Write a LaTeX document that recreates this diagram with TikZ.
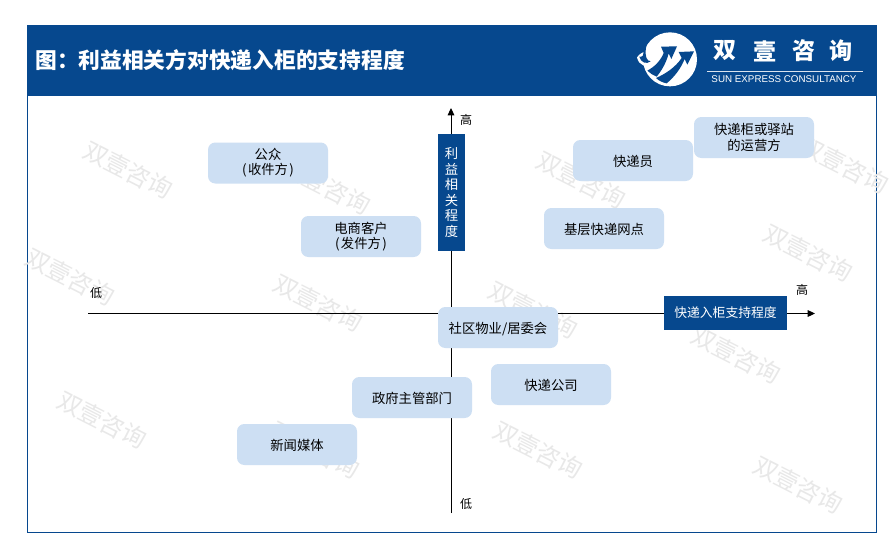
\documentclass[tikz,border=0pt]{standalone}
\usepackage{fontspec}
\setmainfont{Noto Sans CJK SC}
\setsansfont{Liberation Sans}
\usetikzlibrary{arrows.meta}
\definecolor{navy}{HTML}{06488E}
\definecolor{pale}{HTML}{CDDFF3}
\definecolor{wm}{HTML}{E8E8E8}
\tikzset{
  x=0.75pt,y=-0.75pt,
  card/.style={fill=pale,rounded corners=5.5pt,minimum width=90pt,minimum height=30.75pt,inner sep=0pt,align=center,font=\fontsize{10pt}{11.4pt}\selectfont,text=black,execute at begin node={\rule{0pt}{10.3pt}}},
  axislabel/.style={font=\fontsize{9pt}{10pt}\selectfont,text=black,inner sep=0pt},
  bluebox/.style={fill=navy,text=white,inner sep=0pt,align=center},
  axisline/.style={draw=black,line width=0.75pt,-{Triangle[length=5.5pt,width=5pt]}},
  mark wm/.style={font=\fontsize{18pt}{20pt}\selectfont,text=wm,rotate=-27,inner sep=0pt},
  logotext/.style={text=white,inner sep=0pt,font=\fontsize{17.3pt}{20pt}\selectfont\bfseries},
}
\begin{document}
\begin{tikzpicture}
\useasboundingbox (0,0) rectangle (892,550);
\fill[white] (0,0) rectangle (892,550);
% frame and header
\draw[navy,line width=0.6pt] (27.5,95) rectangle (876,532);
\fill[navy] (27,25) rectangle (877,95);
\node[anchor=west,text=white,inner sep=0pt,font=\fontsize{16.3pt}{20pt}\selectfont\bfseries] (title) at (35,60) {图：利益相关方对快递入柜的支持程度};
% logo, drawn in the coordinates of a 3x crop
\begin{scope}[shift={(632,28)},x=0.25pt,y=-0.25pt]
\fill[white] (114,94) circle (81);
\fill[white] (15,88) .. controls (20,112) and (42,122) .. (70,108) -- (60,70) .. controls (42,66) and (24,74) .. (15,88) -- cycle;
\fill[navy] (30,50) .. controls (34,62) and (36,76) .. (32,84) .. controls (26,90) and (24,84) .. (22,86) .. controls (26,104) and (44,110) .. (56,100) .. controls (44,100) and (38,84) .. (42,60) -- (44,30) -- cycle;
\fill[navy] (46,128) .. controls (68,116) and (86,98) .. (95,75) -- (87,56) -- (135,55) -- (118,93) -- (110,76) .. controls (104,100) and (92,124) .. (74,146) .. controls (64,142) and (54,136) .. (46,128) -- cycle;
\fill[navy] (72,150) .. controls (100,138) and (130,118) .. (149,90) -- (140,72) -- (186,70) -- (166,110) -- (158,93) .. controls (146,122) and (128,146) .. (104,166) .. controls (92,164) and (80,158) .. (72,150) -- cycle;
\end{scope}
\node[logotext] (logoa) at (725,51) {双};
\node[logotext] (logob) at (765,51) {壹};
\node[logotext] (logoc) at (804,51) {咨};
\node[logotext] (logod) at (841,51) {询};
\draw[white!85!navy,line width=0.6pt] (707,71) -- (863,71);
\node[text=white,inner sep=0pt,font=\sffamily\fontsize{7.35pt}{9pt}\selectfont] (logoe) at (784,79.5) {SUN EXPRESS CONSULTANCY};
% watermarks
\foreach \px/\py in {128/170,326/186,581/180,844/165,70/277,318/303,533/310,808/253,102/420,315/450,538/450,736/355,798/485}
  \node[mark wm] at (\px,\py) {双壹咨询};
% axes
\coordinate (ybot) at (451,513);
\coordinate (ytop) at (451,108);
\coordinate (xleft) at (88,313.5);
\coordinate (xright) at (815,313.5);
\draw[axisline] (ybot) -- (ytop);
\draw[axisline] (xleft) -- (xright);
\node[axislabel] (hiy) at (466,120) {高};
\node[axislabel] (loy) at (466,504) {低};
\node[axislabel] (lox) at (96,293) {低};
\node[axislabel] (hix) at (802,290) {高};
% axis titles
\node[bluebox,font=\fontsize{10pt}{11.6pt}\selectfont,minimum width=20.25pt,minimum height=87.75pt] (ytitle) at (451.5,192.5) {利\\益\\相\\关\\程\\度};
\node[bluebox,font=\fontsize{9.6pt}{12pt}\selectfont,minimum width=92.25pt,minimum height=25.5pt] (xtitle) at (725.5,313) {快递入柜支持程度};
% cards
\node[card] (gz) at (268,163) {公众\\(\kern1pt收件方\kern1pt)};
\node[card] (ds) at (361,236.5) {电商客户\\(\kern1pt发件方\kern1pt)};
\node[card] (ky) at (633,160.5) {快递员};
\node[card] (yy) at (754,137.5) {快递柜或驿站\\的运营方};
\node[card] (jc) at (604,228.5) {基层快递网点};
\node[card] (sq) at (498,327.5) {社区物业/居委会};
\node[card] (gs) at (551,384.5) {快递公司};
\node[card] (zf) at (412,397.5) {政府主管部门};
\node[card] (xw) at (297,444.5) {新闻媒体};
\end{tikzpicture}
\end{document}
